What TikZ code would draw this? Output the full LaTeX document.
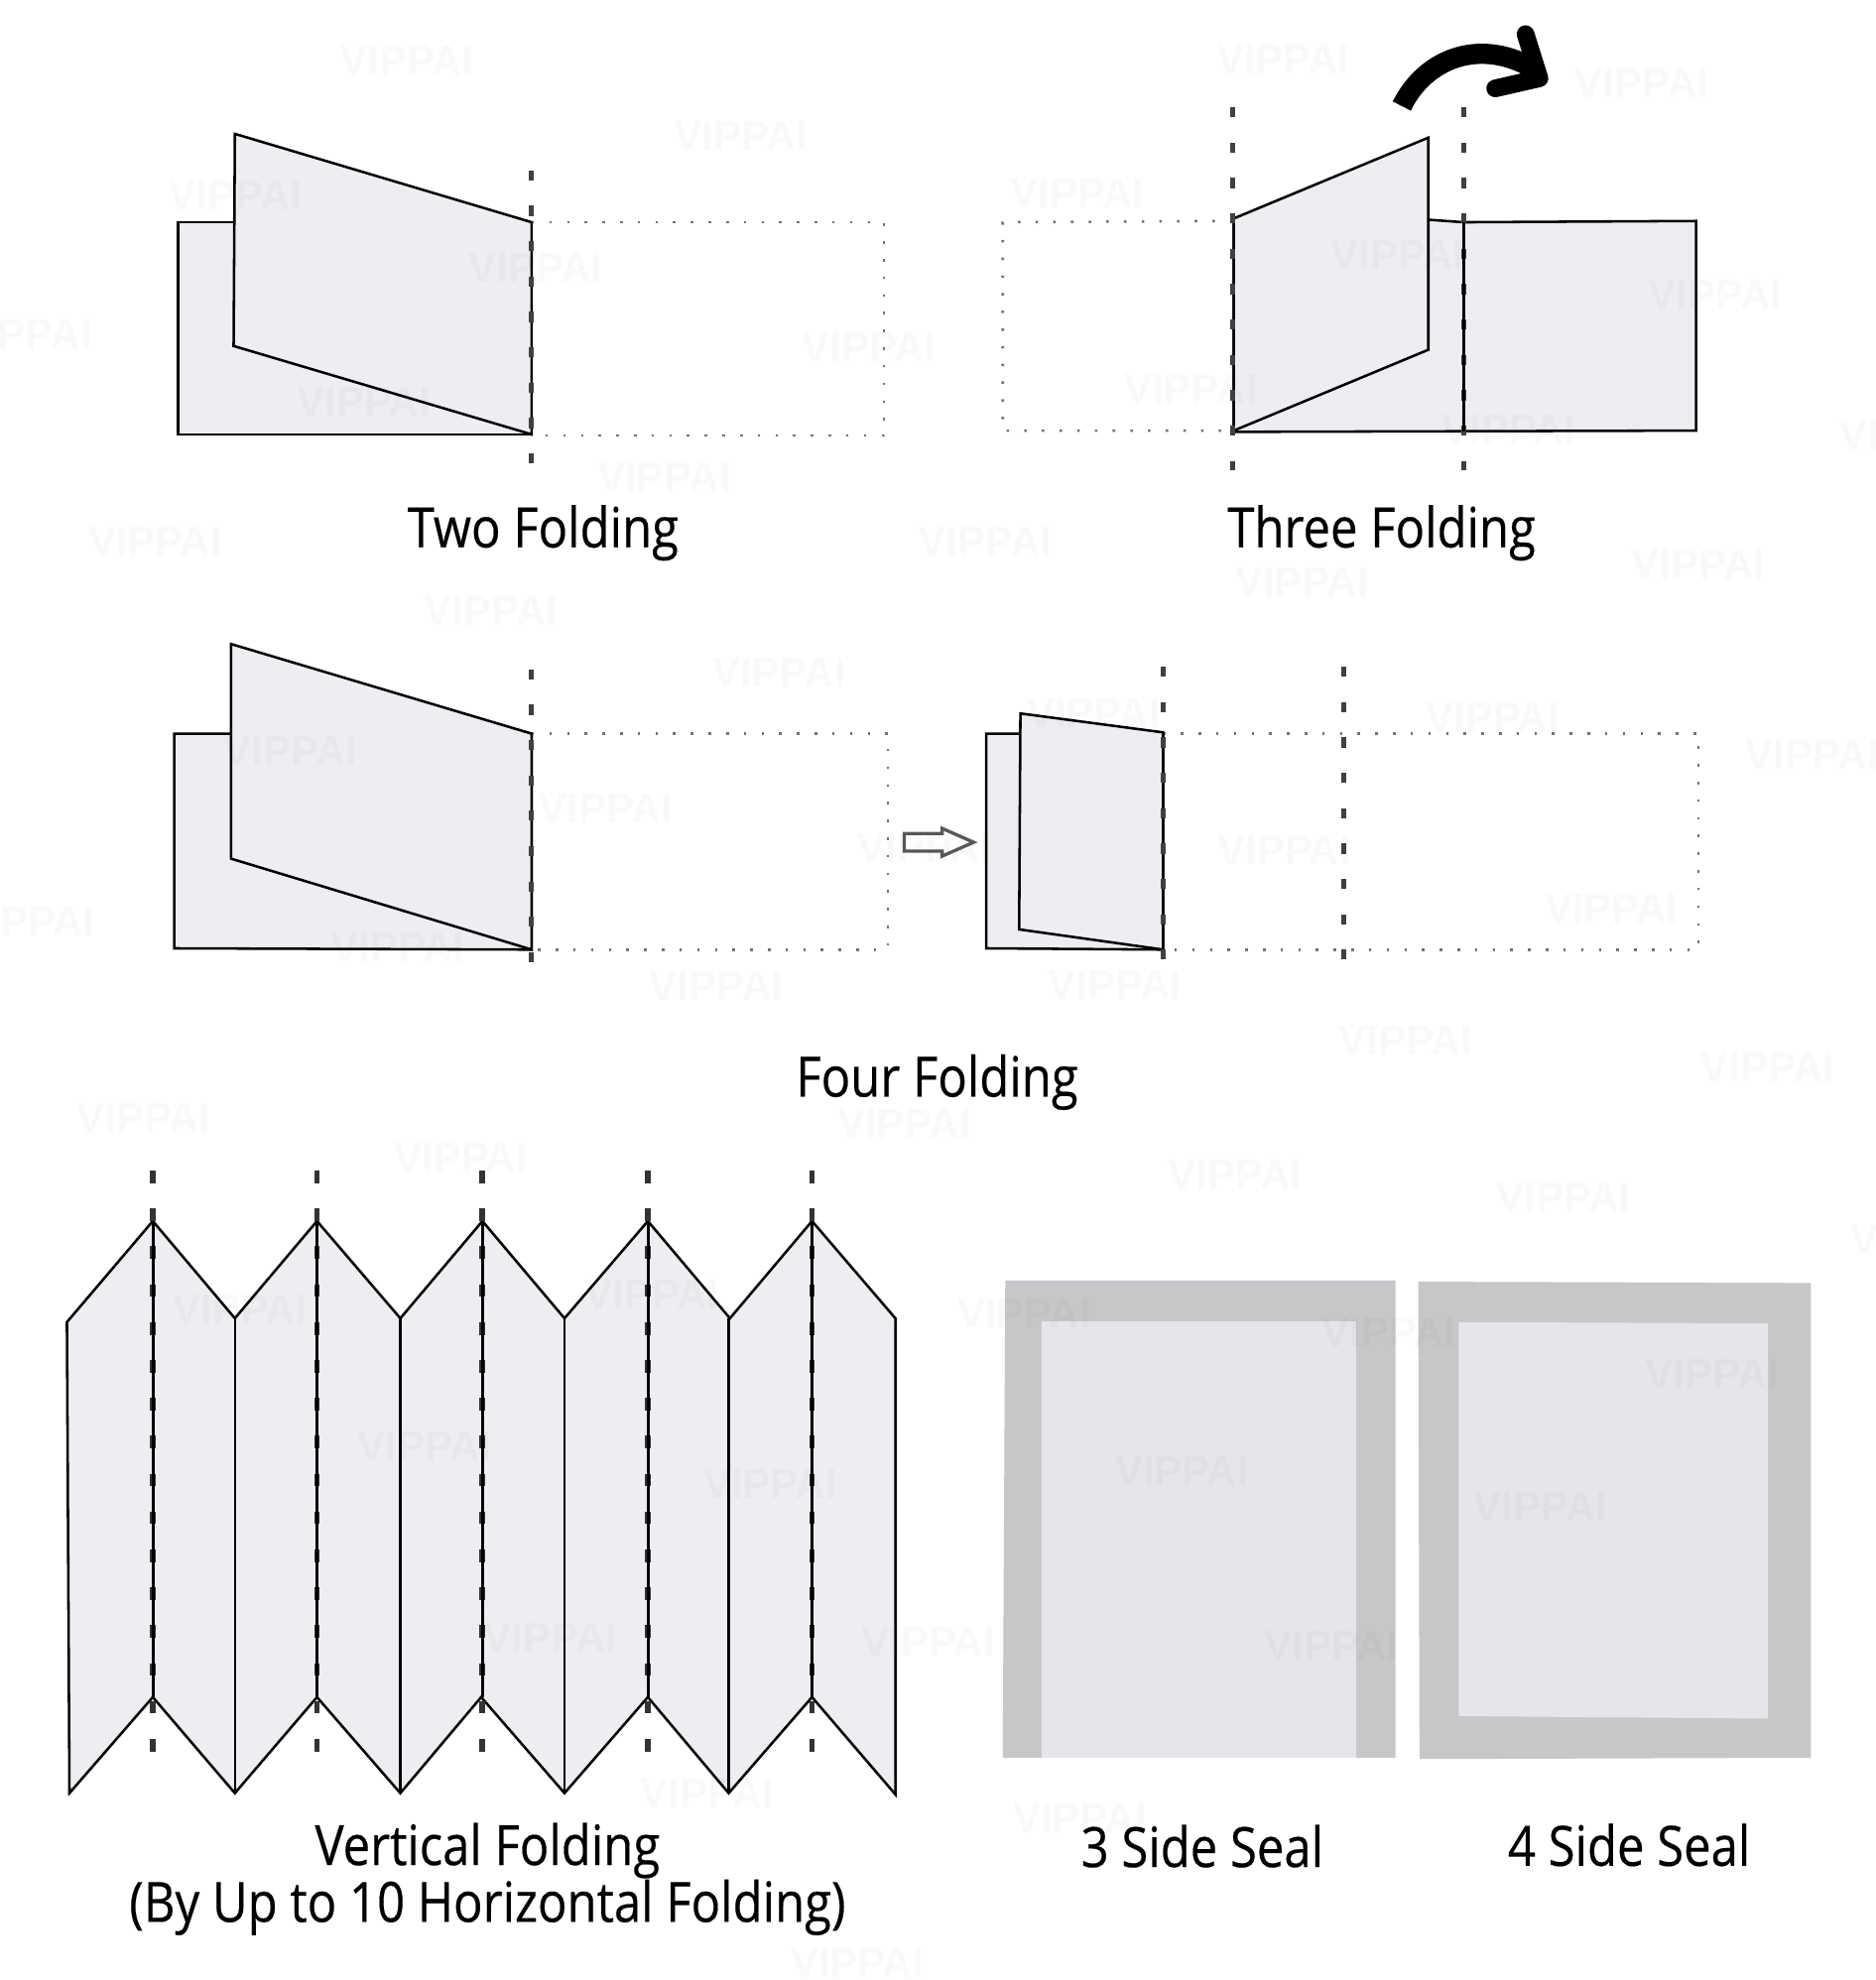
\documentclass[tikz,border=0pt]{standalone}
\usepackage{fontspec}
\setmainfont[FakeStretch=0.875,FakeBold=0.35]{Open Sans}
\newfontfamily\markfont{Liberation Sans}
\usepackage{xcolor}
\usetikzlibrary{arrows.meta, positioning}
\definecolor{paper}{HTML}{EEEDF1}
\definecolor{sealband}{HTML}{C7C6C9}
\definecolor{sealpanel}{HTML}{E6E6EA}
\tikzset{
  panel/.style={draw=black,fill=paper,line width=2pt,line join=miter},
  crease/.style={draw=black!75,line width=4pt,dash pattern=on 8pt off 20pt},
  longcrease/.style={draw=black!80,line width=4.6pt,dash pattern=on 10pt off 20pt},
  ghost/.style={draw=black!55,line width=2pt,dash pattern=on 2pt off 12pt},
  caption/.style={font=\fontsize{44}{45}\selectfont,align=center,inner sep=0pt},
  wmark/.style={font=\markfont\bfseries\fontsize{33}{33}\selectfont,text=black,text opacity=0.022,inner sep=0pt},
}

\begin{document}
\begin{tikzpicture}[x=1pt,y=-1pt]
\useasboundingbox (0,0) rectangle (1485,1568);
\fill[white] (0,0) rectangle (1485,1568);
% two folding
\draw[panel] (141,176) -- (421,176) -- (421,344) -- (141,344) -- cycle;
\draw[ghost] (421,176) -- (700,176) -- (700,345) -- (421,345);
\draw[panel] (186,106) -- (421,176) -- (421,344) -- (185,274) -- cycle;
\draw[crease] (421,135) -- (421,372);
\node[caption] (twolabel) at (430,422) {Two Folding};
% three folding
\draw[ghost] (976,175) -- (794,176) -- (794,341) -- (976,341);
\draw[panel] (1131,174) -- (1159,176) -- (1343,175) -- (1343,341) -- (977,342) -- (977,174) -- cycle;
\draw[panel] (977,173) -- (1131,109) -- (1131,277) -- (977,341) -- cycle;
\draw[crease] (976,85) -- (976,372);
\draw[crease] (1159,85) -- (1159,372);
\draw[draw=black,line width=2pt] (1159,176) -- (1159,342);
\draw[line width=16pt,line cap=butt] (1110,84) .. controls (1128,47) and (1172,28) .. (1217,56);
\draw[line width=14pt,line cap=round,line join=round] (1208,27) -- (1219,62) -- (1184,70);
\node[caption] (threelabel) at (1094,422) {Three Folding};
% four folding, first step
\draw[panel] (138,581) -- (421,581) -- (421,752) -- (138,751) -- cycle;
\draw[ghost] (421,581) -- (703,581) -- (703,752) -- (421,752);
\draw[panel] (183,510) -- (421,581) -- (421,752) -- (183,680) -- cycle;
\draw[crease] (421,530) -- (421,765);
% four folding, hollow arrow
\draw[draw=black!65,fill=white,line width=2.6pt,line join=miter] (716,660) -- (746,660) -- (746,656) -- (771,667) -- (746,678) -- (746,674) -- (716,674) -- cycle;
% four folding, second step
\draw[panel] (781,581) -- (921,581) -- (921,752) -- (781,751) -- cycle;
\draw[ghost] (921,581) -- (1345,581) -- (1345,752) -- (921,752);
\draw[panel] (808,565) -- (921,580) -- (921,752) -- (807,736) -- cycle;
\draw[crease] (921,528) -- (921,765);
\draw[crease] (1064,528) -- (1064,765);
\node[caption] (fourlabel) at (742,857) {Four Folding};
% vertical folding
\draw[panel] (53,1047) -- (121,967) -- (186,1044) -- (251,967) -- (317,1044) -- (382,967) -- (447,1044) -- (513,967) -- (578,1044) -- (643,967) -- (709,1044)
  -- (709,1421) -- (643,1344) -- (577,1420) -- (513,1344) -- (447,1420) -- (381,1344) -- (317,1420) -- (251,1344) -- (186,1420) -- (121,1344) -- (55,1420) -- cycle;
\foreach \x in {186,317,447,577} {
  \draw[black,line width=2pt] (\x,1044) -- (\x,1420);
}
\foreach \x in {121,251,382,513,643} {
  \draw[longcrease] (\x,927) -- (\x,1392);
  \draw[black,line width=2.4pt] (\x,967) -- (\x,1344);
}
\node[caption] (vertlabel) at (386,1488) {Vertical Folding\\(By Up to 10 Horizontal Folding)};
% side seals
\fill[sealband] (796,1014) -- (1105,1014) -- (1105,1392) -- (794,1392) -- cycle;
\fill[sealpanel] (825,1046) rectangle (1074,1392);
\fill[sealband] (1123,1015) -- (1434,1016) -- (1434,1392) -- (1124,1393) -- cycle;
\fill[sealpanel] (1155,1047) -- (1400,1048) -- (1400,1361) -- (1155,1359) -- cycle;
\node[caption] (threeseal) at (952,1462) {3 Side Seal};
\node[caption] (fourseal) at (1290,1461) {4 Side Seal};
% faint marks over everything
\foreach \x/\y [count=\i] in {322/48,1016/47,1300/66,587/108,186/155,853/153,424/212,1107/202,1358/233,20/265,688/275,288/318,943/308,1195/340,1510/345,526/378,123/429,780/429,1345/447,1031/461,389/484,617/533,230/595,1435/598,480/640,732/672,866/565,1182/568,1017/673,22/730,1276/720,315/750,567/781,883/780,1113/824,1400/845,114/885,716/890,365/917,978/930,1238/948,1518/982,190/1037,516/1025,811/1040,1100/1055,1356/1088,336/1145,610/1175,936/1165,1220/1193,436/1297,735/1300,1054/1303,560/1420,855/1440,679/1555} {
  \node[wmark] (mark\i) at (\x,\y) {VIPPAI};
}
\end{tikzpicture}
\end{document}
